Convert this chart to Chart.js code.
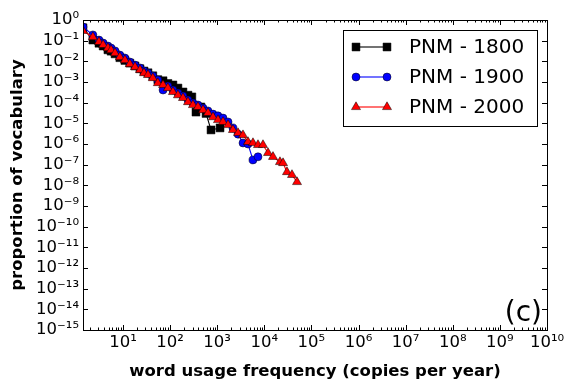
<!DOCTYPE html>
<html><head><meta charset="utf-8">
<script src="https://cdn.jsdelivr.net/npm/chart.js@4/dist/chart.umd.min.js"></script>
<style>html,body{margin:0;padding:0;background:#fff;}#wrap{width:576px;height:391px;}</style>
</head><body><div id="wrap"><canvas id="c" width="576" height="391"></canvas></div>
<script>
// ---- data ----
const x1800 = [1.42, 2.3, 3.1, 3.8, 4.8, 5.6, 6.8, 8.6, 11, 14, 18, 23, 28, 34, 43, 55, 71, 90, 115, 147, 188, 240, 290, 355, 450, 580, 740, 1150];
const y1800 = [0.42, 0.107, 0.075, 0.055, 0.036, 0.031, 0.023, 0.015, 0.011, 0.0082, 0.0060, 0.0044, 0.0034, 0.0028, 0.0020, 0.0013, 0.00115, 0.00085, 0.00072, 0.00051, 0.00033, 0.00023, 0.00019, 0.000035, 0.000062, 0.000030, 0.0000048, 0.0000060];

const x1900 = [1.42, 2.3, 3.1, 3.8, 4.8, 5.6, 6.8, 8.6, 11, 14, 18, 23, 28, 34, 43, 55, 71, 90, 115, 147, 188, 240, 306, 391, 500, 638, 815, 1040, 1330, 1700, 2160, 2770, 3530, 4510, 5750, 7350];
const y1900 = [0.46, 0.19, 0.107, 0.077, 0.055, 0.044, 0.032, 0.020, 0.0145, 0.0093, 0.0066, 0.0048, 0.0034, 0.0027, 0.00195, 0.00126, 0.00041, 0.00064, 0.00041, 0.00029, 0.00021, 0.000135, 0.000096, 0.000077, 0.000055, 0.000040, 0.000028, 0.000023, 0.000018, 0.0000117, 0.0000060, 0.0000030, 0.00000112, 0.0000010, 0.00000017, 0.00000024];

const x2000 = [1.42, 2.3, 3.1, 3.8, 4.8, 5.6, 6.8, 8.6, 11, 14, 18, 23, 28, 34, 43, 55, 71, 90, 115, 147, 188, 240, 306, 391, 500, 638, 815, 1040, 1330, 1700, 2160, 2770, 3530, 4510, 5750, 7350, 9380, 12000, 15300, 21500, 25000, 30300, 38700, 49500];
const y2000 = [0.30, 0.15, 0.087, 0.062, 0.044, 0.035, 0.025, 0.016, 0.0115, 0.0074, 0.0053, 0.0038, 0.0027, 0.0022, 0.00155, 0.00089, 0.00072, 0.00051, 0.00033, 0.00023, 0.00017, 0.000107, 0.000077, 0.000062, 0.000044, 0.000032, 0.000020, 0.0000145, 0.0000117, 0.0000083, 0.0000048, 0.0000034, 0.0000027, 0.00000126, 0.00000112, 0.00000090, 0.00000090, 0.00000037, 0.00000024, 0.000000135, 0.00000012, 0.000000044, 0.000000032, 0.0000000145];

const seriesLabels = ['PNM - 1800', 'PNM - 1900', 'PNM - 2000'];
const xTickExponents = [1, 2, 3, 4, 5, 6, 7, 8, 9, 10];
const yTickExponents = [0, -1, -2, -3, -4, -5, -6, -7, -8, -9, -10, -11, -12, -13, -14, -15];
const xAxisTitle = 'word usage frequency (copies per year)';
const yAxisTitle = 'proportion of vocabulary';
const panelTag = '(c)';

// ---- helpers ----
const SUP = {'0':'⁰','1':'¹','2':'²','3':'³','4':'⁴','5':'⁵','6':'⁶','7':'⁷','8':'⁸','9':'⁹','-':'⁻'};
function powLabel(e){ return '10' + String(e).split('').map(ch => SUP[ch]).join(''); }
function pts(xs, ys){ return xs.map((x, i) => ({x: x, y: ys[i]})); }
const FONT = "'DejaVu Sans', sans-serif";

const styles = [
  {color: '#000000', pointStyle: 'rect', radius: 5.6},
  {color: '#0000ff', pointStyle: 'circle', radius: 4},
  {color: '#ff0000', pointStyle: 'triangle', radius: 5.2}
];

const datasets = [[x1800, y1800], [x1900, y1900], [x2000, y2000]].map((d, i) => ({
  label: seriesLabels[i],
  data: pts(d[0], d[1]),
  borderColor: styles[i].color,
  backgroundColor: styles[i].color,
  borderWidth: 1.1,
  pointStyle: styles[i].pointStyle,
  pointRadius: styles[i].radius,
  pointBackgroundColor: styles[i].color,
  pointBorderColor: '#000000',
  pointBorderWidth: 0.5,
  tension: 0,
  order: 2 - i,
  clip: 0
}));

const frameTicks = {
  id: 'frameTicks',
  afterDatasetsDraw(chart){
    const {ctx, chartArea: a, scales} = chart;
    ctx.save();
    ctx.strokeStyle = '#000'; ctx.lineWidth = 1;
    ctx.beginPath();
    const xs = scales.x;
    xs.ticks.forEach(t => {
      const p = Math.round(xs.getPixelForValue(t.value)) + 0.5;
      const len = t.major ? 5 : 2.5;
      ctx.moveTo(p, a.bottom); ctx.lineTo(p, a.bottom - len);
      ctx.moveTo(p, a.top); ctx.lineTo(p, a.top + len);
    });
    const ys = scales.y;
    ys.ticks.forEach(t => {
      const p = Math.round(ys.getPixelForValue(t.value)) + 0.5;
      ctx.moveTo(a.left, p); ctx.lineTo(a.left + 5, p);
      ctx.moveTo(a.right, p); ctx.lineTo(a.right - 5, p);
    });
    ctx.stroke();
    ctx.strokeRect(Math.round(a.left) + 0.5, Math.round(a.top) + 0.5, Math.round(a.right - a.left), Math.round(a.bottom - a.top));
    ctx.restore();
  },
  afterDraw(chart){
    const ctx = chart.ctx;
    ctx.save();
    const bx = 343.5, by = 30.5, bw = 194, bh = 96;
    ctx.fillStyle = '#fff'; ctx.fillRect(bx, by, bw, bh);
    ctx.strokeStyle = '#000'; ctx.lineWidth = 1; ctx.strokeRect(bx, by, bw, bh);
    const rows = [47, 77, 107];
    seriesLabels.forEach((lab, i) => {
      const y = rows[i];
      ctx.strokeStyle = styles[i].color; ctx.lineWidth = 1.1;
      ctx.beginPath(); ctx.moveTo(356, y); ctx.lineTo(387, y); ctx.stroke();
      [356, 387].forEach(px => {
        ctx.fillStyle = styles[i].color; ctx.strokeStyle = '#000'; ctx.lineWidth = 0.5;
        Chart.helpers.drawPoint(ctx, {pointStyle: styles[i].pointStyle, radius: styles[i].radius, rotation: 0, borderWidth: 0.5}, px, y);
      });
      ctx.fillStyle = '#000';
      ctx.font = '20px ' + FONT;
      ctx.textAlign = 'left'; ctx.textBaseline = 'middle';
      ctx.fillText(lab, 409, y + 1);
    });
    ctx.fillStyle = '#000';
    ctx.font = '28px ' + FONT;
    ctx.textAlign = 'right'; ctx.textBaseline = 'alphabetic';
    ctx.fillText(panelTag, 542, 321);
    ctx.restore();
  }
};

new Chart(document.getElementById('c'), {
  type: 'line',
  data: {datasets: datasets},
  options: {
    responsive: false,
    animation: false,
    devicePixelRatio: 1,
    layout: {padding: {top: 20, right: 29, left: 0, bottom: 0}},
    plugins: {legend: {display: false}, tooltip: {enabled: false}},
    scales: {
      x: {
        type: 'logarithmic',
        position: 'bottom',
        min: 1.42, max: 1e10,
        grid: {display: false, drawTicks: false, tickLength: 0},
        border: {display: false},
        afterBuildTicks(scale){
          const t = [];
          for (let e = 0; e <= 10; e++) {
            for (let m = 1; m <= 9; m++) {
              const v = m * Math.pow(10, e);
              if (v >= scale.min - 1e-9 && v <= scale.max * 1.0000001) {
                t.push({value: v, major: m === 1});
              }
              if (e === 10) break;
            }
          }
          scale.ticks = t;
        },
        afterFit(scale){ scale.height = 61; },
        ticks: {
          autoSkip: false, maxRotation: 0, minRotation: 0, padding: 3,
          color: '#000', font: {family: FONT, size: 16.5},
          callback(v){
            const e = Math.round(Math.log10(v));
            return (Math.abs(v / Math.pow(10, e) - 1) < 1e-6 && xTickExponents.includes(e)) ? powLabel(e) : '';
          }
        },
        title: {display: true, text: xAxisTitle, color: '#000', font: {family: FONT, size: 16.5, weight: 'bold'}, padding: {top: 0, bottom: 9}}
      },
      y: {
        type: 'logarithmic',
        position: 'left',
        min: 1e-15, max: 1,
        grid: {display: false, drawTicks: false, tickLength: 0},
        border: {display: false},
        afterBuildTicks(scale){
          scale.ticks = yTickExponents.map(e => ({value: Math.pow(10, e), major: true}));
        },
        afterFit(scale){ scale.width = 83; },
        ticks: {
          autoSkip: false, padding: 4,
          color: '#000', font: {family: FONT, size: 16.5},
          callback(v){ return powLabel(Math.round(Math.log10(v))); }
        },
        title: {display: true, text: yAxisTitle, color: '#000', font: {family: FONT, size: 16.5, weight: 'bold'}, padding: {top: 8, bottom: 0}}
      }
    }
  },
  plugins: [frameTicks]
});
</script></body></html>
